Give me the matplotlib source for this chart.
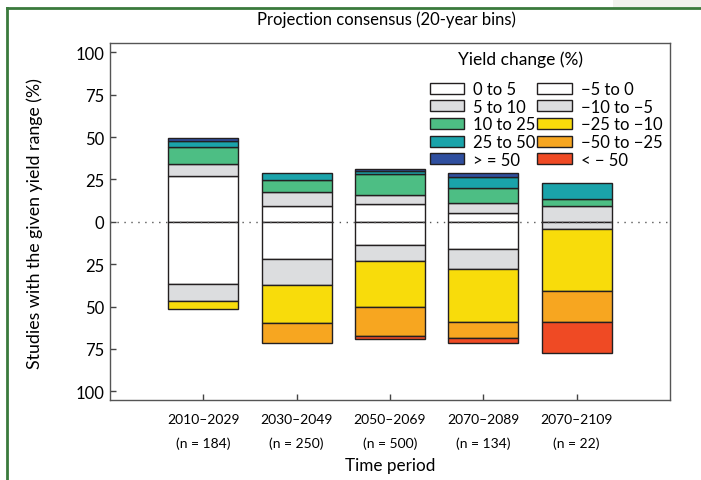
import matplotlib.pyplot as plt
import numpy as np
from matplotlib.patches import Patch, Rectangle
from matplotlib.lines import Line2D

plt.rcParams['font.family'] = ['Lato', 'DejaVu Sans']

periods = ['2010–2029', '2030–2049', '2050–2069', '2070–2089', '2070–2109']
counts = [184, 250, 500, 134, 22]

# share of studies (%) per yield-change bin, stacked upward from 0
pos_labels = ['0 to 5', '5 to 10', '10 to 25', '25 to 50', '> = 50']
pos_colors = ['#ffffff', '#dcdddf', '#4dbe84', '#1aa3aa', '#2f4f9f']
pos_vals = [
    [27.0, 9.5, 10.2, 5.3, 0.0],   # 0 to 5
    [7.1, 7.8, 5.5, 5.7, 9.1],     # 5 to 10
    [10.3, 7.6, 12.7, 8.9, 4.5],   # 10 to 25
    [3.0, 4.1, 1.6, 6.7, 9.1],     # 25 to 50
    [1.8, 0.0, 0.9, 2.4, 0.0],     # >= 50
]

# stacked downward from 0
neg_labels = ['−5 to 0', '−10 to −5', '−25 to −10', '−50 to −25', '< − 50']
neg_colors = ['#ffffff', '#dcdddf', '#f8dc0b', '#f7a620', '#ef4a24']
neg_vals = [
    [36.7, 21.9, 13.6, 16.0, 0.0],  # -5 to 0
    [10.3, 15.6, 9.5, 11.8, 4.5],   # -10 to -5
    [4.5, 22.5, 27.4, 31.6, 36.4],  # -25 to -10
    [0.0, 11.8, 17.0, 8.9, 18.2],   # -50 to -25
    [0.0, 0.0, 1.7, 3.1, 18.2],     # < -50
]

fig = plt.figure(figsize=(7.01, 4.81), dpi=100)
ax = fig.add_axes([110/701, 1 - 400.7/481, 560/701, 356.7/481])

x = np.arange(1, len(periods) + 1)
width = 0.75
edge = '#231f20'

def stack(vals, colors, sign):
    base = np.zeros(len(x))
    for row, col in zip(vals, colors):
        row = np.array(row)
        m = row > 0
        ax.bar(x[m], sign * row[m], width, bottom=base[m], color=col,
               edgecolor=edge, linewidth=1.0, zorder=2)
        base = base + sign * row

stack(pos_vals, pos_colors, 1)
stack(neg_vals, neg_colors, -1)

ax.axhline(0, color='#555555', lw=1.0, ls=(0, (1, 4)), zorder=3)

ax.set_xlim(0, 6)
ax.set_ylim(-105, 105.5)
ax.set_yticks(np.arange(-100, 101, 25))
ax.set_yticklabels([str(abs(v)) for v in range(-100, 101, 25)], fontsize=12)
ax.set_xticks(x)
ax.set_xticklabels([f'{p}\n(n = {n})' for p, n in zip(periods, counts)],
                   fontsize=10, linespacing=2.1)
ax.tick_params(direction='in', length=4, width=1, color='#444444')
ax.tick_params(axis='x', pad=9.5)
ax.tick_params(axis='y', pad=4)
for s in ax.spines.values():
    s.set_color('#555555')
    s.set_linewidth(1.0)

fig.text(386/701, 1 - 20/481, 'Projection consensus (20-year bins)',
         ha='center', va='center', fontsize=12)
fig.text(35/701, 1 - 224/481, 'Studies with the given yield range (%)',
         ha='center', va='center', rotation=90, fontsize=12.8)
fig.text(390/701, 1 - 466/481, 'Time period', ha='center', va='center',
         fontsize=12.3)

handles = [Patch(facecolor=c, edgecolor=edge, linewidth=1.0)
           for c in pos_colors + neg_colors]
ax.text(520/701, 1 - 60/481, 'Yield change (%)', transform=fig.transFigure,
        ha='center', va='center', fontsize=12.5)
ax.legend(handles, pos_labels + neg_labels, ncol=2, loc='upper left',
          bbox_to_anchor=(430/701, 1 - 82/481), bbox_transform=fig.transFigure,
          frameon=False, fontsize=12, handlelength=2.05, handleheight=0.62,
          handletextpad=0.55, columnspacing=0.1, labelspacing=0.1,
          borderpad=0, borderaxespad=0)

# page decoration: green frame line and grey corner
fig.add_artist(Rectangle((613/701, 1 - 9/481), 1, 9/481,
                         transform=fig.transFigure, color='#f1f2ed', lw=0))
fig.add_artist(Line2D([7/701, 1], [1 - 9/481, 1 - 9/481],
                      transform=fig.transFigure, color='#3a7a3c', lw=2))
fig.add_artist(Line2D([7/701, 7/701], [0, 1 - 9/481],
                      transform=fig.transFigure, color='#3a7a3c', lw=2))

fig.savefig('out.png', dpi=100)
